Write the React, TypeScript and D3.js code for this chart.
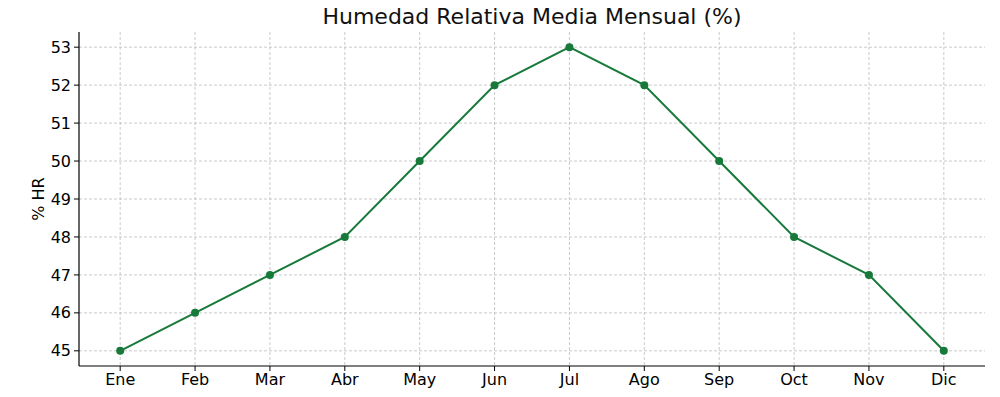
import * as d3 from "d3";

const months = ["Ene", "Feb", "Mar", "Abr", "May", "Jun", "Jul", "Ago", "Sep", "Oct", "Nov", "Dic"];
const humidity = [45, 46, 47, 48, 50, 52, 53, 52, 50, 48, 47, 45];
const yTicks = [45, 46, 47, 48, 49, 50, 51, 52, 53];

const W = 1000;
const H = 397;
const m = { top: 32, right: 15, bottom: 31, left: 79 };

const App = () => {
  const x = d3
    .scaleLinear()
    .domain([-0.55, months.length - 1 + 0.55])
    .range([m.left, W - m.right]);
  const y = d3.scaleLinear().domain([44.6, 53.4]).range([H - m.bottom, m.top]);
  const line = d3
    .line<number>()
    .x((_, i) => x(i))
    .y((d) => y(d));
  const font = "DejaVu Sans, sans-serif";
  const green = "#17793a";

  return (
    <svg
      width={W}
      height={H}
      style={{ position: "absolute", left: 0, top: 0, background: "#fff" }}
      fontFamily={font}
    >
      {/* grid */}
      {months.map((_, i) => (
        <line
          key={"gx" + i}
          x1={x(i)}
          x2={x(i)}
          y1={m.top}
          y2={H - m.bottom}
          stroke="#bdbdbd"
          strokeDasharray="3,2"
          strokeWidth={0.8}
        />
      ))}
      {yTicks.map((t) => (
        <line
          key={"gy" + t}
          x1={m.left}
          x2={W - m.right}
          y1={y(t)}
          y2={y(t)}
          stroke="#bdbdbd"
          strokeDasharray="3,2"
          strokeWidth={0.8}
        />
      ))}
      {/* axes */}
      <line x1={m.left} x2={m.left} y1={m.top} y2={H - m.bottom} stroke="#000" strokeWidth={1.2} />
      <line x1={m.left} x2={W - m.right} y1={H - m.bottom} y2={H - m.bottom} stroke="#000" strokeWidth={1.2} />
      {yTicks.map((t) => (
        <g key={"ty" + t}>
          <line x1={m.left - 5} x2={m.left} y1={y(t)} y2={y(t)} stroke="#000" strokeWidth={1} />
          <text x={m.left - 8} y={y(t)} dy="0.35em" textAnchor="end" fontSize={16} fill="#000">
            {t}
          </text>
        </g>
      ))}
      {months.map((mo, i) => (
        <g key={"tx" + i}>
          <line x1={x(i)} x2={x(i)} y1={H - m.bottom} y2={H - m.bottom + 5} stroke="#000" strokeWidth={1} />
          <text x={x(i)} y={H - m.bottom + 19} textAnchor="middle" fontSize={16} fill="#000">
            {mo}
          </text>
        </g>
      ))}
      <text
        transform={`translate(44,${(m.top + H - m.bottom) / 2}) rotate(-90)`}
        textAnchor="middle"
        fontSize={16}
        fill="#000"
      >
        % HR
      </text>
      <text x={(m.left + W - m.right) / 2} y={24} textAnchor="middle" fontSize={22} fill="#111">
        Humedad Relativa Media Mensual (%)
      </text>
      {/* series */}
      <path d={line(humidity) ?? ""} fill="none" stroke={green} strokeWidth={2} />
      {humidity.map((v, i) => (
        <circle key={"p" + i} cx={x(i)} cy={y(v)} r={4} fill={green} />
      ))}
    </svg>
  );
};

export default App;
